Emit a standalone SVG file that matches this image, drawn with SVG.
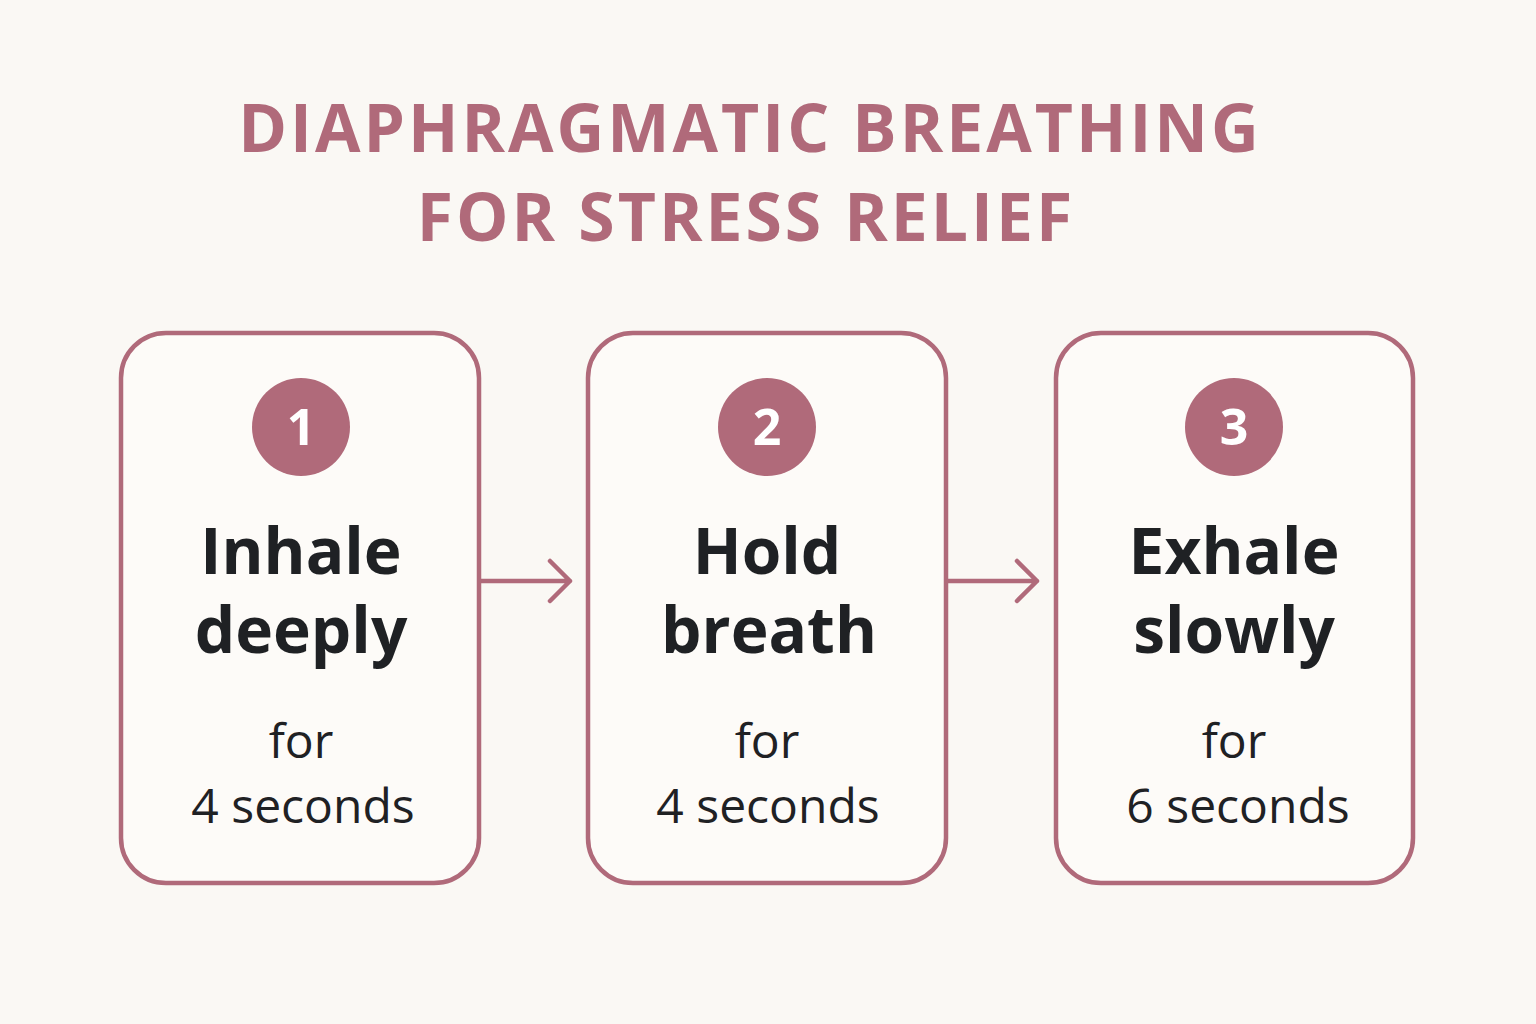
<svg xmlns="http://www.w3.org/2000/svg" width="1536" height="1024" viewBox="0 0 1536 1024">
<style>
.title{font-family:"Open Sans","Liberation Sans",sans-serif;font-weight:700;font-size:66px;fill:#b06a7a;text-anchor:middle;letter-spacing:3px}
.box{fill:#fdfbf8;stroke:#b06a7a;stroke-width:4.5}
.circ{fill:#b06a7a}
.num{font-family:"Open Sans","Liberation Sans",sans-serif;font-weight:700;font-size:50px;fill:#fff;text-anchor:middle}
.head{font-family:"Open Sans","Liberation Sans",sans-serif;font-weight:700;font-size:64px;fill:#1f2124;text-anchor:middle}
.sub{font-family:"Open Sans","Liberation Sans",sans-serif;font-size:48px;fill:#1f2124;text-anchor:middle}
.conn{fill:none;stroke:#b06a7a;stroke-width:4.5;stroke-linecap:round;stroke-linejoin:round}
</style>
<rect width="1536" height="1024" fill="#faf8f4"/>
<text class="title" x="750" y="152">DIAPHRAGMATIC BREATHING</text>
<text class="title" x="746" y="241">FOR STRESS RELIEF</text>
<g id="connectors">
<path class="conn" d="M481 581H570M550 561L570 581L550 601"/>
<path class="conn" d="M948 581H1037M1017 561L1037 581L1017 601"/>
</g>
<g id="step1">
<rect class="box" x="121" y="333" width="358" height="550" rx="45"/>
<circle class="circ" cx="301" cy="427" r="49"/>
<text class="num" x="301" y="445">1</text>
<text class="head" x="301" y="574">Inhale</text>
<text class="head" x="301" y="653">deeply</text>
<text class="sub" x="301" y="758">for</text>
<text class="sub" x="303" y="823">4 seconds</text>
</g>
<g id="step2">
<rect class="box" x="588" y="333" width="358" height="550" rx="45"/>
<circle class="circ" cx="767" cy="427" r="49"/>
<text class="num" x="767" y="445">2</text>
<text class="head" x="767" y="574">Hold</text>
<text class="head" x="769" y="653">breath</text>
<text class="sub" x="767" y="758">for</text>
<text class="sub" x="768" y="823">4 seconds</text>
</g>
<g id="step3">
<rect class="box" x="1056" y="333" width="357" height="550" rx="45"/>
<circle class="circ" cx="1234" cy="427" r="49"/>
<text class="num" x="1234" y="445">3</text>
<text class="head" x="1234" y="574">Exhale</text>
<text class="head" x="1234" y="653">slowly</text>
<text class="sub" x="1234" y="758">for</text>
<text class="sub" x="1238" y="823">6 seconds</text>
</g>
</svg>
